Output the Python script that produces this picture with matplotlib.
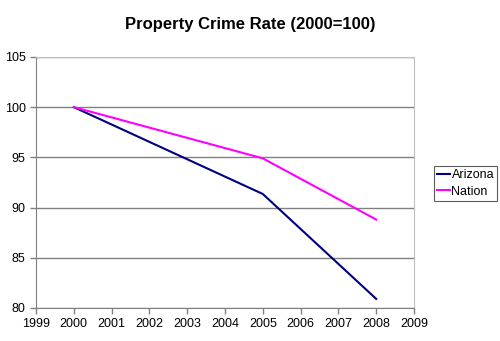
import matplotlib
matplotlib.use('Agg')
import matplotlib.pyplot as plt

plt.rcParams['font.family'] = ['Liberation Sans', 'DejaVu Sans']

years = [2000, 2005, 2008]
arizona = [100, 91.35, 80.9]
nation = [100, 94.9, 88.8]

fig = plt.figure(figsize=(5.0, 3.41), dpi=100)
ax = fig.add_axes([0.072, 0.097, 0.756, 0.736])

ax.plot(years, arizona, color='#000080', lw=1.5, label='Arizona')
ax.plot(years, nation, color='#FF00FF', lw=1.5, label='Nation')

ax.set_xlim(1999, 2009)
ax.set_ylim(80, 105)
ax.set_xticks(range(1999, 2010))
ax.set_yticks(range(80, 106, 5))
ax.yaxis.grid(True, color='#808080', lw=1)
ax.set_axisbelow(True)
ax.tick_params(labelsize=9, length=4, width=1, color='#808080', direction='out')
for s in ['left', 'bottom']:
    ax.spines[s].set_color('#808080')
for s in ['top', 'right']:
    ax.spines[s].set_color('#c0c0c0')

fig.text(0.5, 0.928, 'Property Crime Rate (2000=100)', ha='center', va='center',
         fontsize=12, fontweight='bold')

leg = fig.legend(loc='upper left', bbox_to_anchor=(0.868, 0.513), fontsize=9,
                 frameon=True, fancybox=False, handlelength=1.0, handletextpad=0.15,
                 borderpad=0.25, labelspacing=0.35, borderaxespad=0)
leg.get_frame().set_edgecolor('#333333')
leg.get_frame().set_linewidth(0.8)

fig.savefig('out.png', dpi=100)
